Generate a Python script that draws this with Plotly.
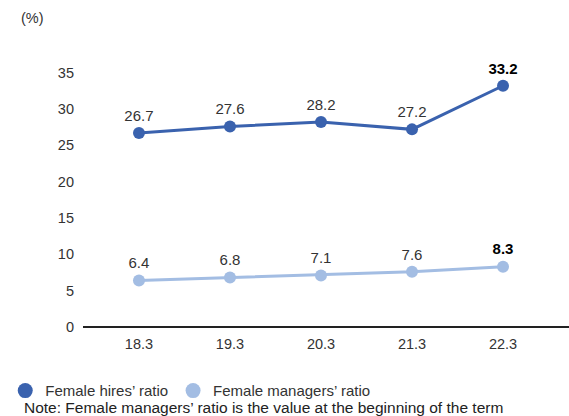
import plotly.graph_objects as go

categories = ["18.3", "19.3", "20.3", "21.3", "22.3"]
hires = [26.7, 27.6, 28.2, 27.2, 33.2]
managers = [6.4, 6.8, 7.1, 7.6, 8.3]
y_ticks = [0, 5, 10, 15, 20, 25, 30, 35]
series_names = ["Female hires\u2019 ratio", "Female managers\u2019 ratio"]
note_text = "Note: Female managers\u2019 ratio is the value at the beginning of the term"

DARK = "#3A62AE"
LIGHT = "#A3BDE3"
FONT = "Liberation Sans, Arial, sans-serif"

def labels(vals):
    out = []
    for i, v in enumerate(vals):
        s = f"{v:.1f}"
        out.append(f"<b>{s}</b>" if i == len(vals) - 1 else s)
    return out

def label_colors(vals):
    return ["#333333"] * (len(vals) - 1) + ["#000000"]

xs = list(range(len(categories)))

fig = go.Figure()
for vals, color, name in [(hires, DARK, series_names[0]), (managers, LIGHT, series_names[1])]:
    fig.add_trace(go.Scatter(
        x=xs, y=vals, name=name, mode="lines+markers+text", showlegend=False,
        line=dict(color=color, width=3), marker=dict(color=color, size=12),
        text=labels(vals), textposition="top center",
        textfont=dict(family=FONT, size=15, color=label_colors(vals)),
        cliponaxis=False,
    ))
for color, name in [(DARK, series_names[0]), (LIGHT, series_names[1])]:
    fig.add_trace(go.Scatter(
        x=[None], y=[None], name=name, mode="markers",
        marker=dict(color=color, size=15), showlegend=True,
    ))

fig.update_layout(
    width=569, height=416,
    margin=dict(l=83, r=0, t=40, b=89, autoexpand=False),
    paper_bgcolor="white", plot_bgcolor="white",
    font=dict(family=FONT, size=15, color="#333333"),
    showlegend=True,
    legend=dict(orientation="h", x=-0.16, y=-0.165, xanchor="left", yanchor="top",
                font=dict(size=15, color="#333333"), itemsizing="trace",
                traceorder="normal", itemwidth=30, tracegroupgap=0,
                bgcolor="rgba(0,0,0,0)"),
    xaxis=dict(range=[-0.615, 4.725], tickmode="array", tickvals=xs, ticktext=categories,
               showgrid=False, zeroline=False, showline=False, ticks="",
               ticklabelstandoff=6,
               tickfont=dict(size=14.5, color="#333333")),
    yaxis=dict(range=[0, 39.5], tickmode="array", tickvals=y_ticks,
               showgrid=False, zeroline=True, zerolinecolor="#222222", zerolinewidth=1.5,
               showline=False, ticks="", ticklabelstandoff=8,
               tickfont=dict(size=14.5, color="#333333")),
    annotations=[
        dict(text="(%)", xref="paper", yref="paper", x=-0.132, y=1.0, xanchor="left",
             yanchor="middle", yshift=22, showarrow=False, font=dict(size=14.5, color="#333333")),
        dict(text=note_text,
             xref="paper", yref="paper", x=-0.1255, y=-0.245, xanchor="left", yanchor="top",
             showarrow=False, font=dict(size=15.5, color="#222222")),
    ],
)

fig.write_html("out.html", post_script="document.body.style.margin='0';",
               config={"displayModeBar": False})
